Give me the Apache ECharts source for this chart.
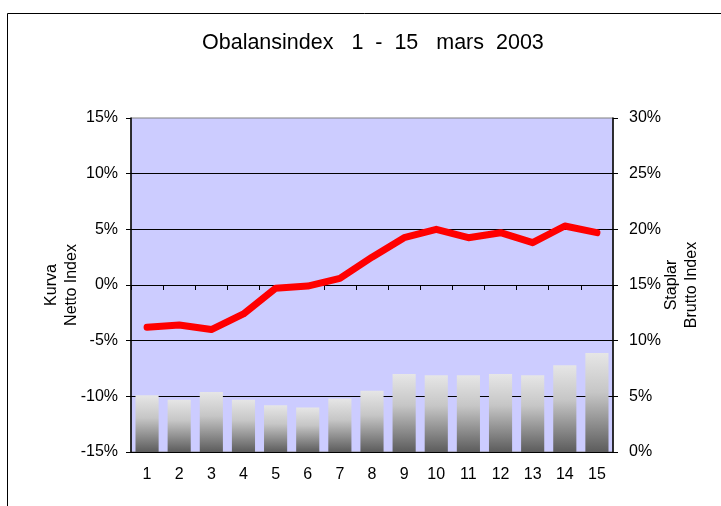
<!DOCTYPE html>
<html>
<head>
<meta charset="utf-8">
<script src="https://cdn.jsdelivr.net/npm/echarts@6/dist/echarts.min.js"></script>
<style>
  html, body { margin: 0; padding: 0; background: #fff; }
  #chart { width: 721px; height: 506px; }
</style>
</head>
<body>
<div id="chart"></div>
<script>
var days = ['1', '2', '3', '4', '5', '6', '7', '8', '9', '10', '11', '12', '13', '14', '15'];
// Kurva - Netto Index (left axis, %)
var netto = [-3.8, -3.6, -4.0, -2.6, -0.3, -0.1, 0.6, 2.5, 4.25, 5.0, 4.25, 4.7, 3.8, 5.3, 4.7];
// Staplar - Brutto Index (right axis, %)
var brutto = [5.1, 4.7, 5.4, 4.7, 4.2, 4.0, 4.8, 5.5, 7.0, 6.9, 6.9, 7.0, 6.9, 7.8, 8.9];

var font = 'Liberation Sans, Arial, sans-serif';

var chart = echarts.init(document.getElementById('chart'));

var option = {
    backgroundColor: '#fff',
    animation: false,
    textStyle: { fontFamily: font },
    title: {
        text: 'Obalansindex   1  -  15   mars  2003',
        left: 197,
        top: 27,
        textStyle: { fontFamily: font, fontSize: 21.5, fontWeight: 'normal', color: '#000' }
    },
    graphic: [{
        type: 'rect',
        shape: { x: 7.5, y: 13.5, width: 800, height: 600 },
        style: { fill: null, stroke: '#000', lineWidth: 1 },
        silent: true,
        z: -1
    }],
    grid: {
        left: 131,
        right: 108,
        top: 118,
        bottom: 54,
        show: true,
        backgroundColor: '#ccccff',
        borderColor: '#808080',
        borderWidth: 1
    },
    xAxis: {
        type: 'category',
        data: days,
        axisLine: { lineStyle: { color: '#000', width: 1 } },
        axisTick: { show: true, length: 5, lineStyle: { color: '#000' } },
        axisLabel: { color: '#000', fontSize: 16, margin: 15, fontFamily: font }
    },
    yAxis: [{
        type: 'value',
        min: -15,
        max: 15,
        interval: 5,
        name: 'Kurva\nNetto Index',
        nameLocation: 'middle',
        nameRotate: 90,
        nameGap: 49,
        nameMoveOverlap: false,
        nameTextStyle: { color: '#000', fontSize: 16, fontFamily: font, lineHeight: 20 },
        axisLine: { show: true, lineStyle: { color: '#000', width: 1.5 } },
        axisTick: { show: true, length: 5, lineStyle: { color: '#000' } },
        axisLabel: { color: '#000', fontSize: 16, margin: 13, fontFamily: font, formatter: '{value}%' },
        splitLine: { show: true, showMaxLine: false, lineStyle: { color: '#000', width: 1 } }
    }, {
        type: 'value',
        min: 0,
        max: 30,
        interval: 5,
        name: 'Staplar\nBrutto Index',
        nameLocation: 'middle',
        nameRotate: 90,
        nameGap: 49,
        nameMoveOverlap: false,
        nameTextStyle: { color: '#000', fontSize: 16, fontFamily: font, lineHeight: 20 },
        axisLine: { show: true, lineStyle: { color: '#000', width: 1.5 } },
        axisTick: { show: true, length: 5, lineStyle: { color: '#000' } },
        axisLabel: { color: '#000', fontSize: 16, margin: 16, fontFamily: font, formatter: '{value}%' },
        splitLine: { show: false }
    }],
    series: [{
        name: 'Staplar',
        type: 'bar',
        yAxisIndex: 1,
        data: brutto,
        barCategoryGap: '28%',
        itemStyle: {
            color: new echarts.graphic.LinearGradient(0, 0, 0, 1, [
                { offset: 0, color: '#e6e6e6' },
                { offset: 0.4, color: '#c6c6c6' },
                { offset: 1, color: '#5c5c5c' }
            ])
        },
        z: 2
    }, {
        name: 'Kurva',
        type: 'line',
        yAxisIndex: 0,
        data: netto,
        symbol: 'none',
        lineStyle: { color: '#ff0000', width: 7, cap: 'round', join: 'round' },
        z: 3
    }]
};

chart.setOption(option);
</script>
</body>
</html>
